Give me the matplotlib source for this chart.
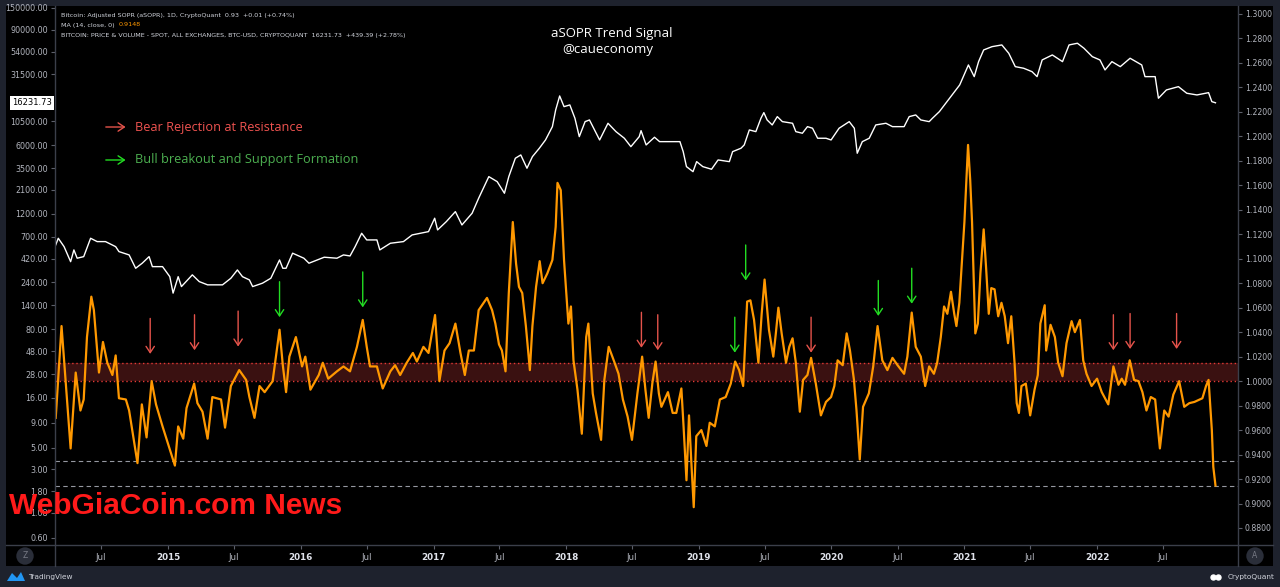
import matplotlib
matplotlib.use('Agg')
import matplotlib.pyplot as plt
import matplotlib.transforms as mtransforms
from matplotlib.lines import Line2D
from matplotlib.patches import Rectangle, Polygon
from matplotlib.ticker import NullLocator
import pandas as pd

# Adjusted SOPR, 14-day MA (right axis)
asopr_dates = [
    '2014-02-26', '2014-03-14', '2014-04-08', '2014-04-22', '2014-05-05', '2014-05-14', '2014-05-23', '2014-06-04',
    '2014-06-11', '2014-06-25', '2014-07-06', '2014-07-18', '2014-08-01', '2014-08-10', '2014-08-19', '2014-09-07',
    '2014-09-16', '2014-10-09', '2014-10-21', '2014-11-03', '2014-11-17', '2014-11-29', '2014-12-17', '2015-01-01',
    '2015-01-20', '2015-01-29', '2015-02-12', '2015-02-21', '2015-03-14', '2015-03-23', '2015-04-06', '2015-04-20',
    '2015-05-03', '2015-05-27', '2015-06-07', '2015-06-23', '2015-07-16', '2015-08-04', '2015-08-13', '2015-08-27',
    '2015-09-10', '2015-09-24', '2015-10-16', '2015-11-04', '2015-11-13', '2015-11-22', '2015-12-01', '2015-12-19',
    '2016-01-05', '2016-01-14', '2016-01-28', '2016-02-20', '2016-03-02', '2016-03-17', '2016-04-10', '2016-04-28',
    '2016-05-16', '2016-06-04', '2016-06-20', '2016-07-01', '2016-07-10', '2016-07-29', '2016-08-14', '2016-09-04',
    '2016-09-17', '2016-10-01', '2016-10-19', '2016-11-05', '2016-11-16', '2016-12-04', '2016-12-18', '2017-01-05',
    '2017-01-17', '2017-01-31', '2017-02-14', '2017-03-02', '2017-03-16', '2017-03-28', '2017-04-08', '2017-04-22',
    '2017-05-05', '2017-05-28', '2017-06-11', '2017-06-20', '2017-06-30', '2017-07-08', '2017-07-18', '2017-07-27',
    '2017-08-07', '2017-08-16', '2017-08-24', '2017-09-02', '2017-09-12', '2017-09-23', '2017-09-30', '2017-10-10',
    '2017-10-20', '2017-10-28', '2017-11-10', '2017-11-24', '2017-12-03', '2017-12-08', '2017-12-17', '2017-12-26',
    '2018-01-07', '2018-01-14', '2018-01-21', '2018-02-01', '2018-02-13', '2018-02-25', '2018-03-03', '2018-03-15',
    '2018-03-24', '2018-04-07', '2018-04-16', '2018-04-28', '2018-05-13', '2018-05-25', '2018-06-06', '2018-06-19',
    '2018-07-01', '2018-07-16', '2018-07-29', '2018-08-07', '2018-08-16', '2018-08-26', '2018-09-04', '2018-09-13',
    '2018-09-20', '2018-10-08', '2018-10-21', '2018-10-31', '2018-11-14', '2018-11-20', '2018-11-28', '2018-12-05',
    '2018-12-11', '2018-12-18', '2018-12-25', '2019-01-08', '2019-01-22', '2019-01-31', '2019-02-14', '2019-02-28',
    '2019-03-16', '2019-03-30', '2019-04-11', '2019-04-22', '2019-05-03', '2019-05-14', '2019-05-23', '2019-06-02',
    '2019-06-14', '2019-06-23', '2019-07-01', '2019-07-13', '2019-07-25', '2019-08-01', '2019-08-08', '2019-08-17',
    '2019-08-29', '2019-09-07', '2019-09-16', '2019-09-25', '2019-10-06', '2019-10-15', '2019-10-27', '2019-11-06',
    '2019-11-19', '2019-12-03', '2019-12-17', '2019-12-31', '2020-01-09', '2020-01-18', '2020-02-01', '2020-02-12',
    '2020-02-21', '2020-03-03', '2020-03-10', '2020-03-19', '2020-03-28', '2020-04-13', '2020-04-25', '2020-05-07',
    '2020-05-20', '2020-06-03', '2020-06-17', '2020-07-01', '2020-07-19', '2020-07-28', '2020-08-09', '2020-08-20',
    '2020-09-03', '2020-09-15', '2020-09-26', '2020-10-09', '2020-10-18', '2020-10-28', '2020-11-06', '2020-11-15',
    '2020-11-25', '2020-12-04', '2020-12-10', '2020-12-18', '2021-01-01', '2021-01-11', '2021-01-17', '2021-01-22',
    '2021-01-31', '2021-02-07', '2021-02-14', '2021-02-23', '2021-03-02', '2021-03-09', '2021-03-16', '2021-03-25',
    '2021-04-04', '2021-04-13', '2021-04-22', '2021-05-01', '2021-05-10', '2021-05-19', '2021-05-25', '2021-05-31',
    '2021-06-07', '2021-06-19', '2021-07-01', '2021-07-13', '2021-07-22', '2021-07-29', '2021-08-10', '2021-08-14',
    '2021-08-26', '2021-09-07', '2021-09-16', '2021-09-28', '2021-10-09', '2021-10-23', '2021-11-01', '2021-11-15',
    '2021-11-24', '2021-12-03', '2021-12-17', '2022-01-01', '2022-01-14', '2022-02-01', '2022-02-15', '2022-03-01',
    '2022-03-10', '2022-03-19', '2022-04-01', '2022-04-13', '2022-04-25', '2022-05-06', '2022-05-17', '2022-05-29',
    '2022-06-10', '2022-06-23', '2022-07-05', '2022-07-17', '2022-07-30', '2022-08-15', '2022-08-29', '2022-09-12',
    '2022-09-26', '2022-10-18', '2022-10-28', '2022-11-04', '2022-11-13', '2022-11-17', '2022-11-23',
]
asopr_ma = [
    0.970, 1.045, 0.945, 1.007, 0.976, 0.985, 1.036, 1.069,
    1.058, 1.007, 1.032, 1.015, 1.005, 1.021, 0.986, 0.985,
    0.976, 0.933, 0.981, 0.954, 1.000, 0.981, 0.963, 0.949,
    0.931, 0.963, 0.953, 0.978, 0.998, 0.982, 0.975, 0.953,
    0.987, 0.985, 0.962, 0.996, 1.009, 1.001, 0.987, 0.970,
    0.996, 0.991, 1.000, 1.042, 1.013, 0.991, 1.020, 1.036,
    1.012, 1.020, 0.993, 1.005, 1.015, 1.002, 1.008, 1.012,
    1.008, 1.028, 1.050, 1.028, 1.012, 1.012, 0.994, 1.008,
    1.013, 1.005, 1.015, 1.023, 1.016, 1.028, 1.023, 1.054,
    1.000, 1.025, 1.031, 1.047, 1.023, 1.005, 1.025, 1.025,
    1.058, 1.068, 1.058, 1.047, 1.030, 1.025, 1.008, 1.072,
    1.130, 1.096, 1.077, 1.072, 1.045, 1.009, 1.045, 1.077,
    1.098, 1.080, 1.088, 1.099, 1.126, 1.162, 1.156, 1.099,
    1.047, 1.061, 1.017, 0.993, 0.957, 1.036, 1.047, 0.990,
    0.974, 0.952, 1.001, 1.028, 1.016, 1.006, 0.985, 0.971,
    0.952, 0.990, 1.020, 0.993, 0.970, 0.998, 1.016, 0.990,
    0.979, 0.991, 0.974, 0.974, 0.994, 0.963, 0.919, 0.972,
    0.936, 0.897, 0.955, 0.960, 0.947, 0.966, 0.963, 0.985,
    0.987, 0.998, 1.016, 1.009, 0.996, 1.065, 1.066, 1.050,
    1.015, 1.055, 1.083, 1.042, 1.020, 1.039, 1.060, 1.039,
    1.015, 1.028, 1.035, 1.015, 0.975, 1.001, 1.005, 1.019,
    0.998, 0.972, 0.983, 0.987, 0.996, 1.017, 1.013, 1.039,
    1.025, 1.001, 0.976, 0.936, 0.979, 0.990, 1.012, 1.045,
    1.017, 1.009, 1.019, 1.013, 1.006, 1.020, 1.056, 1.028,
    1.020, 0.996, 1.012, 1.006, 1.015, 1.036, 1.061, 1.055,
    1.073, 1.055, 1.045, 1.064, 1.130, 1.193, 1.164, 1.130,
    1.039, 1.047, 1.088, 1.124, 1.091, 1.055, 1.076, 1.075,
    1.053, 1.064, 1.053, 1.031, 1.053, 1.015, 0.982, 0.974,
    0.996, 0.998, 0.972, 0.993, 1.005, 1.047, 1.062, 1.025,
    1.046, 1.036, 1.015, 1.004, 1.031, 1.049, 1.040, 1.050,
    1.017, 1.006, 0.996, 1.002, 0.991, 0.981, 1.012, 0.997,
    1.002, 0.997, 1.017, 1.001, 1.000, 0.991, 0.976, 0.987,
    0.985, 0.945, 0.976, 0.971, 0.989, 1.000, 0.979, 0.982,
    0.983, 0.986, 0.996, 1.001, 0.960, 0.930, 0.9148,
]

# BTC price, USD (left log axis)
price_dates = [
    '2014-02-26', '2014-03-05', '2014-03-21', '2014-04-08', '2014-04-17', '2014-04-26', '2014-05-14', '2014-06-02',
    '2014-06-20', '2014-07-13', '2014-08-10', '2014-08-19', '2014-09-16', '2014-10-04', '2014-10-22', '2014-11-10',
    '2014-11-19', '2014-12-17', '2015-01-06', '2015-01-15', '2015-01-29', '2015-02-07', '2015-03-09', '2015-03-28',
    '2015-04-20', '2015-05-31', '2015-06-23', '2015-07-11', '2015-07-25', '2015-08-13', '2015-08-22', '2015-09-18',
    '2015-10-11', '2015-11-04', '2015-11-13', '2015-11-22', '2015-12-10', '2016-01-10', '2016-01-24', '2016-02-16',
    '2016-03-06', '2016-04-10', '2016-04-28', '2016-05-16', '2016-05-30', '2016-06-17', '2016-07-01', '2016-07-29',
    '2016-08-06', '2016-09-04', '2016-10-10', '2016-11-03', '2016-12-18', '2017-01-04', '2017-01-12', '2017-02-05',
    '2017-03-02', '2017-03-20', '2017-04-17', '2017-05-05', '2017-06-02', '2017-06-25', '2017-07-15', '2017-07-27',
    '2017-08-14', '2017-08-29', '2017-09-15', '2017-09-30', '2017-10-19', '2017-11-05', '2017-11-24', '2017-12-03',
    '2017-12-14', '2017-12-26', '2018-01-11', '2018-01-25', '2018-02-06', '2018-02-22', '2018-03-06', '2018-03-20',
    '2018-04-03', '2018-04-26', '2018-05-18', '2018-06-10', '2018-06-28', '2018-07-21', '2018-07-26', '2018-08-09',
    '2018-09-01', '2018-09-15', '2018-11-10', '2018-11-19', '2018-11-28', '2018-12-16', '2018-12-26', '2019-01-12',
    '2019-02-05', '2019-02-23', '2019-03-26', '2019-04-04', '2019-04-27', '2019-05-06', '2019-05-20', '2019-06-07',
    '2019-06-21', '2019-06-29', '2019-07-08', '2019-07-22', '2019-08-05', '2019-08-19', '2019-09-16', '2019-09-25',
    '2019-10-13', '2019-10-27', '2019-11-10', '2019-11-24', '2019-12-17', '2019-12-31', '2020-01-22', '2020-02-19',
    '2020-03-04', '2020-03-12', '2020-03-26', '2020-04-14', '2020-05-02', '2020-05-30', '2020-06-17', '2020-07-19',
    '2020-08-02', '2020-08-20', '2020-09-03', '2020-09-26', '2020-10-05', '2020-10-24', '2020-11-21', '2020-12-19',
    '2021-01-12', '2021-01-28', '2021-02-09', '2021-02-23', '2021-03-18', '2021-04-14', '2021-05-03', '2021-05-21',
    '2021-06-13', '2021-07-06', '2021-07-20', '2021-08-03', '2021-08-31', '2021-09-28', '2021-10-16', '2021-11-08',
    '2021-11-26', '2021-12-19', '2022-01-09', '2022-01-23', '2022-02-11', '2022-03-06', '2022-04-02', '2022-05-04',
    '2022-05-13', '2022-06-10', '2022-06-19', '2022-07-11', '2022-08-13', '2022-09-05', '2022-10-03', '2022-11-04',
    '2022-11-13', '2022-11-23',
]
btc_price = [
    579, 677, 556, 391, 515, 424, 440, 677,
    626, 626, 556, 495, 458, 335, 377, 440,
    348, 348, 275, 187, 275, 218, 287, 245,
    227, 227, 265, 322, 275, 255, 218, 236,
    265, 407, 335, 335, 477, 424, 377, 407,
    434, 424, 458, 447, 556, 761, 651, 651,
    515, 602, 626, 732, 791, 1083, 823, 1000,
    1264, 925, 1217, 1730, 2872, 2554, 1946, 2872,
    4421, 4776, 3498, 4589, 5587, 6787, 9275, 13720,
    19050, 14824, 15430, 11290, 7336, 10430, 10850, 8585,
    6787, 10040, 8250, 7065, 5801, 7336, 8445, 6038,
    7233, 6524, 6524, 5161, 3631, 3228, 4082, 3631,
    3416, 4248, 4082, 5161, 5587, 6038, 8585, 8250,
    11290, 12880, 10850, 9652, 11730, 10430, 10040, 8250,
    7945, 9275, 8933, 7065, 7065, 6787, 8933, 10430,
    8933, 4970, 6524, 7065, 9652, 10040, 9275, 9275,
    11730, 12200, 10850, 10430, 11290, 13180, 18050, 24650,
    39410, 29960, 42590, 56020, 60520, 63000, 51840, 37870,
    36480, 33680, 29960, 44320, 49820, 42590, 63000, 65550,
    58310, 47870, 44320, 35050, 42590, 37870, 46110, 39410,
    29960, 29960, 18050, 21930, 23690, 20290, 19500, 20580,
    16670, 16231.73,
]

# signal arrows: date and the aSOPR level the arrow points at
bear_dates = ['2014-11-13', '2015-03-15', '2015-07-13', '2018-07-27', '2018-09-10',
              '2019-11-06', '2022-02-15', '2022-04-02', '2022-08-08']
bear_tips = [1.020, 1.023, 1.026, 1.025, 1.023, 1.021, 1.023, 1.024, 1.024]
bull_dates = ['2015-11-04', '2016-06-20', '2019-04-10', '2019-05-10', '2020-05-09', '2020-08-09']
bull_tips = [1.050, 1.058, 1.021, 1.080, 1.051, 1.061]

left_ticks = [150000, 90000, 54000, 31500, 10500, 6000, 3500, 2100, 1200, 700, 420, 240,
              140, 80, 48, 28, 16, 9, 5, 3, 1.8, 1.08, 0.6]
right_ticks = [0.88, 0.90, 0.92, 0.94, 0.96, 0.98, 1.00, 1.02, 1.04, 1.06, 1.08, 1.10,
               1.12, 1.14, 1.16, 1.18, 1.20, 1.22, 1.24, 1.26, 1.28, 1.30]
resistance = (1.0, 1.0145)
support_lines = [0.935, 0.9145]
last_price = 16231.73
last_ma = 0.9148

W, H = 1280, 587
fig = plt.figure(figsize=(12.8, 5.87), dpi=100, facecolor='#1e222d')


def fx(px):
    return px / W


def fy(py):
    return 1 - py / H


# chart panel and separators
fig.add_artist(Rectangle((fx(6), fy(566)), fx(1273) - fx(6), fy(6) - fy(566),
                         transform=fig.transFigure, facecolor='black', edgecolor='none', zorder=-2))

ax = fig.add_axes([fx(55), fy(545), fx(1238) - fx(55), fy(6) - fy(545)])
ax.set_facecolor('black')
ax2 = ax.twinx()
for a in (ax, ax2):
    for s in a.spines.values():
        s.set_visible(False)

sep = '#3b3f4a'
fig.add_artist(Line2D([fx(55), fx(55)], [fy(6), fy(566)], transform=fig.transFigure, color=sep, lw=1))
fig.add_artist(Line2D([fx(1238), fx(1238)], [fy(6), fy(566)], transform=fig.transFigure, color=sep, lw=1))
fig.add_artist(Line2D([fx(6), fx(1273)], [fy(545), fy(545)], transform=fig.transFigure, color=sep, lw=1))

# price
ax.plot(pd.to_datetime(price_dates), btc_price, color='white', lw=1.0)
ax.set_yscale('log')
ax.set_ylim(0.509, 157000)
ax.yaxis.set_minor_locator(NullLocator())
ax.set_yticks(left_ticks)
ax.set_yticklabels(['%.2f' % v for v in left_ticks])
ax.tick_params(axis='y', which='both', labelsize=5.8, labelcolor='#b2b5be', color='#5d606b',
               length=3, width=0.8, pad=2)

# aSOPR
ax2.axhspan(resistance[0], resistance[1], color='#3a1111', lw=0, zorder=1)
for lvl in resistance:
    ax2.axhline(lvl, color='#e53935', ls=(0, (1, 2)), lw=1, zorder=2)
for lvl in support_lines:
    ax2.axhline(lvl, color='#9598a1', ls=(0, (4, 3)), lw=0.8, zorder=2)
ax2.plot(pd.to_datetime(asopr_dates), asopr_ma, color='#ff9800', lw=1.6, zorder=3)
ax2.set_ylim(0.8661, 1.3065)
ax2.set_yticks(right_ticks)
ax2.set_yticklabels(['%.4f' % v for v in right_ticks])
ax2.tick_params(axis='y', labelsize=5.6, labelcolor='#b2b5be', color='#5d606b',
                length=3, width=0.8, pad=2)

# x axis
ax.set_xlim(pd.Timestamp('2014-02-24'), pd.Timestamp('2023-01-24'))
xt, xl = [], []
for yr in range(2014, 2023):
    if yr > 2014:
        xt.append(pd.Timestamp(f'{yr}-01-01'))
        xl.append(str(yr))
    xt.append(pd.Timestamp(f'{yr}-07-01'))
    xl.append('Jul')
ax.set_xticks(xt)
ax.set_xticklabels(xl)
ax.tick_params(axis='x', labelsize=6.3, color='#5d606b', length=3, width=0.8, pad=3)
for lab in ax.get_xticklabels():
    if lab.get_text() == 'Jul':
        lab.set_color('#b2b5be')
    else:
        lab.set_color('#e0e3eb')
        lab.set_fontweight('bold')

# signal arrows
alen = 0.0335
head = '->,head_length=0.45,head_width=0.3'
for d, tip in zip(bear_dates, bear_tips):
    ax2.annotate('', xy=(pd.Timestamp(d), tip), xytext=(pd.Timestamp(d), tip + alen),
                 arrowprops=dict(arrowstyle=head, color='#e5534b', lw=1.0), zorder=5)
for d, tip in zip(bull_dates, bull_tips):
    ax2.annotate('', xy=(pd.Timestamp(d), tip), xytext=(pd.Timestamp(d), tip + alen),
                 arrowprops=dict(arrowstyle=head, color='#22dd22', lw=1.0), zorder=5)

# legend notes
for yfrac, col, tcol, txt in [(0.7755, '#e5534b', '#ef5350', 'Bear Rejection at Resistance'),
                              (0.7143, '#22dd22', '#4caf50', 'Bull breakout and Support Formation')]:
    ax2.annotate('', xy=(0.0620, yfrac), xytext=(0.0406, yfrac), xycoords='axes fraction',
                 arrowprops=dict(arrowstyle=head, color=col, lw=1.0))
    ax2.text(0.0676, yfrac, txt, transform=ax2.transAxes, color=tcol, fontsize=9.2,
             va='center', ha='left', family='Open Sans')

# last price label on the left scale
trans = mtransforms.blended_transform_factory(ax.transAxes, ax.transData)
ax.text(-0.0028, last_price, '%.2f' % last_price, transform=trans, ha='right', va='center',
        fontsize=6, color='black', bbox=dict(facecolor='white', edgecolor='none', pad=1.6))

# header
hc = '#d1d4dc'
fig.text(fx(61), fy(15), 'Bitcoin: Adjusted SOPR (aSOPR), 1D, CryptoQuant  0.93  +0.01 (+0.74%)',
         fontsize=4.6, color=hc, va='center')
t = fig.text(fx(61), fy(25), 'MA (14, close, 0)  ', fontsize=4.6, color=hc, va='center')
ax.annotate('%.4f' % last_ma, xy=(1, 0.5), xycoords=t, va='center', ha='left', fontsize=4.6,
            color='#ff9800')
fig.text(fx(61), fy(35), 'BITCOIN: PRICE & VOLUME - SPOT, ALL EXCHANGES, BTC-USD, CRYPTOQUANT  '
         '16231.73  +439.39 (+2.78%)', fontsize=4.6, color=hc, va='center')

# title
fig.text(fx(612), fy(34), 'aSOPR Trend Signal', fontsize=9.5, color='white', ha='center',
         va='center', family='Open Sans')
fig.text(fx(608), fy(49), '@caueconomy', fontsize=9.5, color='white', ha='center',
         va='center', family='Open Sans')

# watermark
fig.text(fx(9), fy(506), 'WebGiaCoin.com News', fontsize=21.5, color='#ff1a1a', fontweight='bold',
         family='Liberation Sans', va='center', ha='left')

# bottom buttons and footer
for cx, letter in [(25, 'Z'), (1255, 'A')]:
    fig.text(fx(cx), fy(556), letter, fontsize=5.5, color='#787b86', ha='center', va='center',
             bbox=dict(boxstyle='circle,pad=0.55', facecolor='#2a2e39', edgecolor='none'))

fig.add_artist(Polygon([(fx(7), fy(581)), (fx(12), fy(573)), (fx(17), fy(578)), (fx(21), fy(572)),
                        (fx(25), fy(581))], closed=True, transform=fig.transFigure,
                       facecolor='#2196f3', edgecolor='none'))
fig.text(fx(28), fy(577), 'TradingView', fontsize=5.3, color='#d1d4dc', va='center')
fig.add_artist(Line2D([fx(1213), fx(1218)], [fy(577), fy(577)], transform=fig.transFigure,
                      ls='none', marker='o', markersize=3.6, color='white'))
fig.text(fx(1275), fy(577), 'CryptoQuant', fontsize=5.3, color='#d1d4dc', va='center', ha='right')

fig.savefig('out.png', dpi=100, facecolor=fig.get_facecolor())
